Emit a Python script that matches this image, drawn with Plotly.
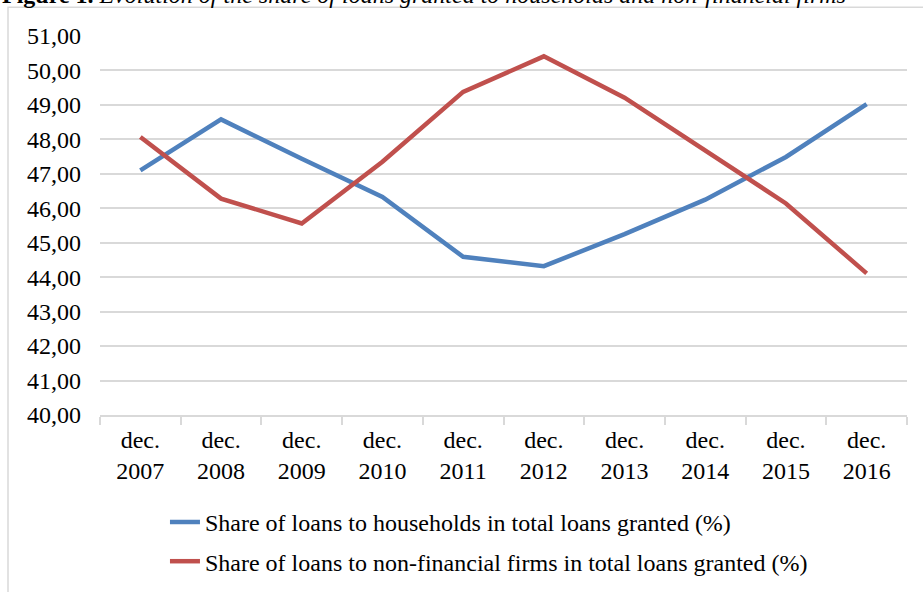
import plotly.graph_objects as go

categories = ["dec.<br>2007", "dec.<br>2008", "dec.<br>2009", "dec.<br>2010", "dec.<br>2011",
              "dec.<br>2012", "dec.<br>2013", "dec.<br>2014", "dec.<br>2015", "dec.<br>2016"]
households = [47.10, 48.58, 47.44, 46.33, 44.59, 44.32, 45.25, 46.25, 47.49, 49.02]
firms = [48.07, 46.28, 45.56, 47.35, 49.38, 50.41, 49.21, 47.69, 46.14, 44.11]
name_households = "Share of loans to households in total loans granted (%)"
name_firms = "Share of loans to non-financial firms in total loans granted (%)"
title_text = ("<b>Figure 1.</b> <i>Evolution of the share of loans granted to households "
              "and non-financial firms</i>")

FONT = "Liberation Serif"
GRID = "#d9d9d9"
FS = 24

fig = go.Figure()
fig.add_trace(go.Scatter(x=categories, y=households, mode="lines", name=name_households,
                         legendgroup="a",
                         line=dict(color="#4F81BD", width=4.5)))
fig.add_trace(go.Scatter(x=categories, y=firms, mode="lines", name=name_firms,
                         legendgroup="b",
                         line=dict(color="#C0504D", width=4.5)))

fig.update_layout(
    width=923, height=592,
    margin=dict(l=100, r=16, t=36, b=177, autoexpand=False),
    paper_bgcolor="white", plot_bgcolor="white",
    separators=", ",
    font=dict(family=FONT, size=FS, color="black"),
    showlegend=True,
    legend=dict(x=0.0805, xanchor="left", y=-0.224, yanchor="top",
                orientation="v", tracegroupgap=5,
                font=dict(family=FONT, size=FS, color="black"),
                bgcolor="rgba(0,0,0,0)"),
    xaxis=dict(type="category", range=[-0.5, len(categories) - 0.5],
               showgrid=False, showline=True, linecolor=GRID, linewidth=1.5,
               ticks="outside", tickson="boundaries", ticklen=8, tickcolor=GRID, tickwidth=1.5,
               ticklabelstandoff=2,
               tickfont=dict(family=FONT, size=FS, color="black"), fixedrange=True),
    yaxis=dict(range=[40, 51], dtick=1, tickformat=".2f", showgrid=True, gridcolor=GRID,
               gridwidth=1.5, showline=False, zeroline=False, ticks="",
               ticklabelstandoff=18,
               tickfont=dict(family=FONT, size=FS, color="black"), fixedrange=True),
    shapes=[dict(type="rect", xref="paper", yref="paper",
                 x0=(8 - 100) / 807, x1=(935 - 100) / 807,
                 y0=(414.6 - 610) / 378.9, y1=1 + (35.7 - 7) / 378.9,
                 line=dict(color=GRID, width=1.5), fillcolor="rgba(0,0,0,0)", layer="below")],
    annotations=[dict(text=title_text, xref="paper", yref="paper",
                      x=-100 / 807, xanchor="left", y=1 + (35.7 + 5) / 378.9, yanchor="middle",
                      showarrow=False, font=dict(family=FONT, size=FS, color="black"))],
)

fig.write_html("out.html")
